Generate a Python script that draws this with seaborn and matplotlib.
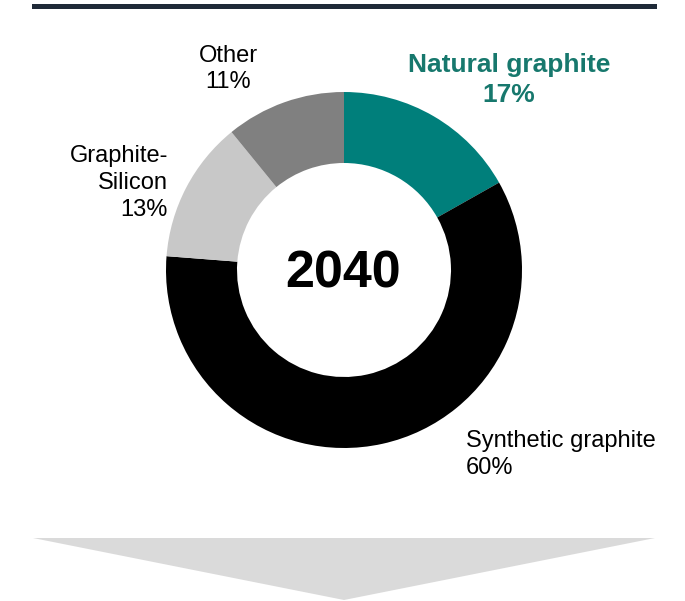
import matplotlib.pyplot as plt
import seaborn as sns
from matplotlib.patches import Polygon, Rectangle

# data
categories = ['Natural graphite', 'Synthetic graphite', 'Graphite-\nSilicon', 'Other']
shares = [17, 60, 13, 11]
year = '2040'

colors = ['#007f7b', '#000000', '#c8c8c8', '#808080']
label_colors = ['#17786d', '#000000', '#000000', '#000000']

# label layout in pixels (anchor x, alignment, first baseline y, line step, bold)
label_pos = [(509, 'center', 72, 30, True),
             (466, 'left', 447, 26.5, False),
             (168, 'right', 162, 27, False),
             (228, 'center', 62, 26, False)]

W, H = 685, 601
cx, cy, R, ring = 344, 270, 178, 71

sns.set_style('white')
plt.rcParams['font.family'] = ['Liberation Sans', 'DejaVu Sans']

fig = plt.figure(figsize=(W / 100, H / 100), dpi=100)

# donut
axp = fig.add_axes([(cx - R) / W, (H - cy - R) / H, 2 * R / W, 2 * R / H])
axp.pie(shares, colors=colors, startangle=90, counterclock=False, radius=1,
        wedgeprops=dict(width=ring / R, linewidth=0))
axp.set_xlim(-1, 1)
axp.set_ylim(-1, 1)
axp.set_axis_off()

# overlay in pixel coordinates
ax = fig.add_axes([0, 0, 1, 1])
ax.set_xlim(0, W)
ax.set_ylim(H, 0)
ax.set_axis_off()
ax.patch.set_alpha(0)

# top rule
ax.add_patch(Rectangle((32, 4), 625, 5, color='#1f2a38', lw=0))
# bottom arrow
ax.add_patch(Polygon([(33, 538), (655, 538), (344, 600)], closed=True,
                     color='#dadada', lw=0))

for cat, val, col, (x, ha, y0, step, bold) in zip(categories, shares, label_colors, label_pos):
    lines = (cat + '\n%d%%' % val).split('\n')
    for i, line in enumerate(lines):
        ax.text(x, y0 + i * step, line, ha=ha, va='baseline', color=col,
                fontsize=19 if bold else 17, fontweight='bold' if bold else 'normal')

ax.text(cx - 1, 287, year, ha='center', va='baseline', fontsize=37.5,
        fontweight='bold', color='#000000')

fig.savefig('out.png', dpi=100)
